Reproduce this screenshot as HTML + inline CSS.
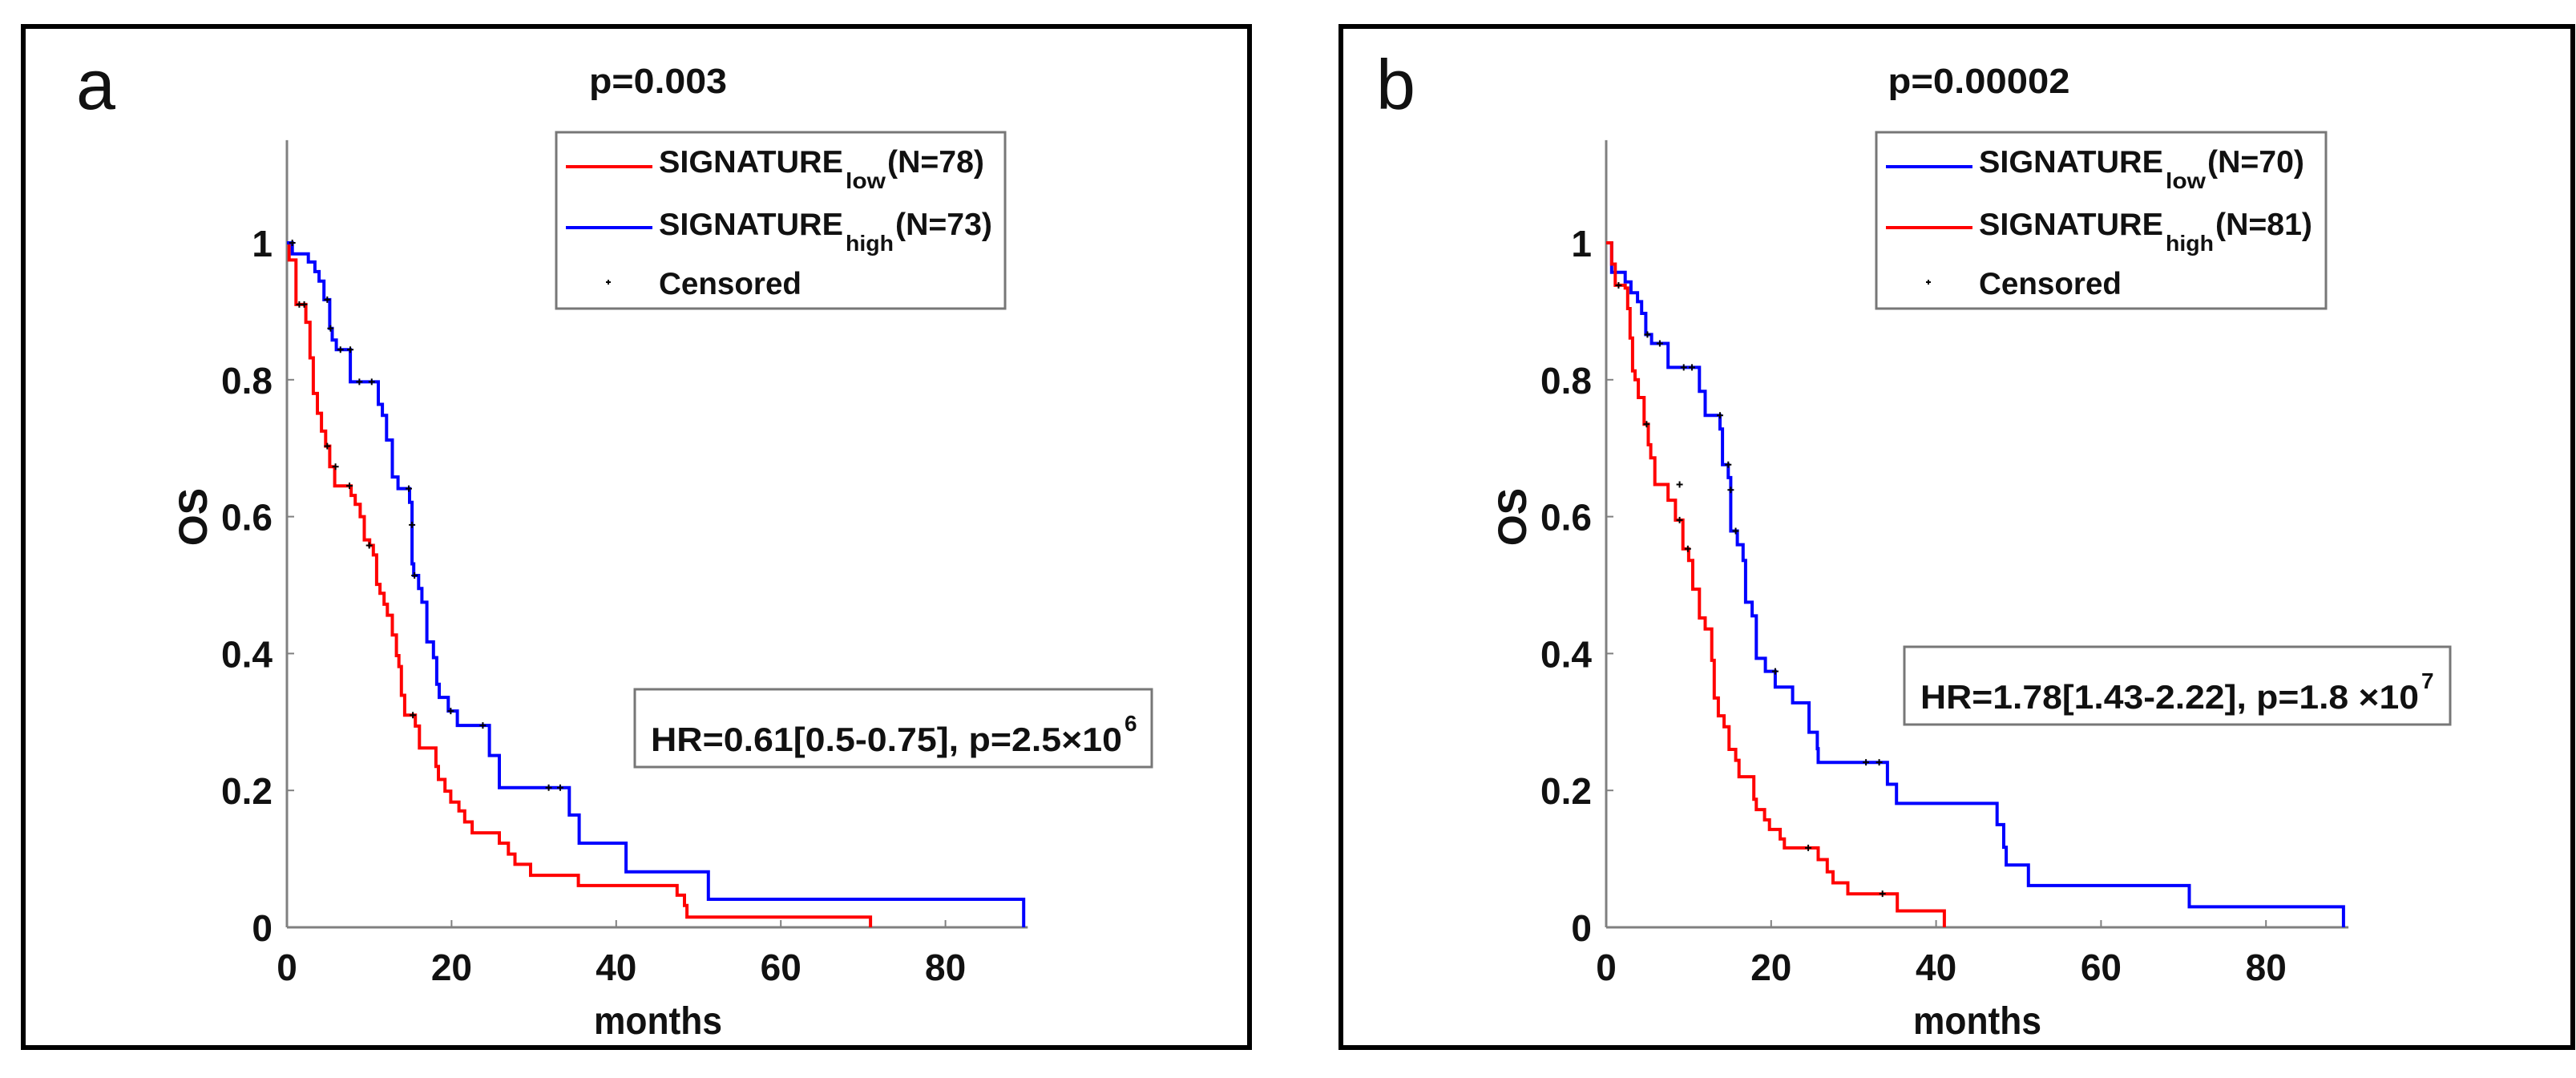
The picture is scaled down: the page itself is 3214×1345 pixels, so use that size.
<!DOCTYPE html>
<html><head><meta charset="utf-8"><style>
html,body{margin:0;padding:0;background:#fff;}
svg{display:block;}
text{font-family:"Liberation Sans",Arial,sans-serif;font-weight:bold;fill:#111;}
</style></head><body>
<svg id="fig" width="3214" height="1345" viewBox="0 0 3214 1345" xmlns="http://www.w3.org/2000/svg">
<rect x="0" y="0" width="3214" height="1345" fill="#fff"/>
</svg>
<script>
// ---- Panel a data ----
const aRedT = [0.26,1.1,2.3,2.8,3.2,3.7,4.2,4.7,5.2,5.8,7.8,8.3,8.9,9.4,10.05,10.5,10.9,11.3,11.8,12.2,12.8,13.3,13.6,13.9,14.3,15.6,16.1,18.1,18.4,19.2,19.9,20.9,21.6,22.5,25.8,26.9,27.7,29.6,35.4,47.4,48.3,48.6,70.9];
const aRedS = [0.975,0.910,0.884,0.832,0.780,0.751,0.725,0.703,0.673,0.645,0.631,0.618,0.600,0.566,0.558,0.544,0.501,0.488,0.472,0.456,0.427,0.397,0.381,0.339,0.310,0.294,0.262,0.235,0.216,0.199,0.183,0.170,0.154,0.138,0.123,0.107,0.092,0.076,0.061,0.047,0.032,0.015,0];
const aBlueT = [0.65,2.6,3.4,3.9,4.5,5.2,5.5,6.0,7.7,11.1,11.6,12.1,12.8,13.5,14.9,15.2,15.4,16.0,16.4,17.0,17.8,18.2,18.5,19.6,20.7,24.6,25.8,34.3,35.5,41.2,51.2,89.5];
const aBlueS = [0.984,0.972,0.958,0.944,0.917,0.875,0.858,0.844,0.797,0.764,0.748,0.712,0.658,0.641,0.621,0.531,0.514,0.495,0.475,0.417,0.394,0.355,0.336,0.316,0.295,0.251,0.204,0.164,0.123,0.081,0.041,0];
const aRedCT = [1.5,2.1,4.9,5.9,7.6,10.0,15.3];
const aRedCS = [0.910,0.910,0.703,0.673,0.645,0.558,0.310];
const aBlueCT = [0.65,4.9,5.3,6.5,7.7,8.8,10.3,14.8,15.2,15.5,19.9,23.8,31.8,33.2];
const aBlueCS = [1.0,0.917,0.875,0.844,0.844,0.797,0.797,0.641,0.588,0.514,0.316,0.295,0.204,0.204];
// ---- Panel b data ----
const bBlueT = [0.66,2.3,3.0,3.8,4.3,4.8,5.5,7.5,11.3,12.0,13.8,14.1,14.8,15.1,15.9,16.6,16.9,17.7,18.2,19.3,20.5,22.6,24.6,25.6,25.7,34.1,35.2,47.4,48.2,48.5,51.2,70.7,89.4];
const bBlueS = [0.957,0.943,0.927,0.914,0.897,0.866,0.853,0.818,0.783,0.748,0.728,0.676,0.657,0.579,0.559,0.536,0.475,0.455,0.393,0.374,0.351,0.328,0.285,0.261,0.241,0.209,0.181,0.150,0.117,0.091,0.061,0.030,0];
const bRedT = [0.66,1.1,2.3,2.6,2.9,3.2,3.5,3.9,4.6,5.1,5.4,5.9,7.5,8.4,9.3,10.0,10.5,11.3,12.0,12.8,13.1,13.6,14.3,14.9,15.7,16.1,17.9,18.2,19.2,19.8,21.1,21.6,25.7,26.8,27.5,29.3,35.3,41.0];
const bRedS = [0.969,0.938,0.934,0.904,0.861,0.813,0.800,0.774,0.735,0.705,0.686,0.647,0.624,0.595,0.553,0.536,0.494,0.452,0.436,0.390,0.335,0.309,0.293,0.260,0.244,0.220,0.187,0.172,0.157,0.143,0.129,0.116,0.099,0.081,0.065,0.049,0.024,0];
const bBlueCT = [5.0,6.5,9.4,10.4,13.8,14.8,15.1,15.7,20.5,31.5,33.1];
const bBlueCS = [0.866,0.853,0.818,0.818,0.748,0.676,0.639,0.579,0.374,0.241,0.241];
const bRedCT = [1.5,4.9,8.9,8.9,9.9,24.5,33.5];
const bRedCS = [0.938,0.735,0.647,0.595,0.553,0.116,0.049];
const xTicks = [0,20,40,60,80];
const xTickLabels = ["0","20","40","60","80"];
const yTicks = [0,0.2,0.4,0.6,0.8,1];
const yTickLabels = ["0","0.2","0.4","0.6","0.8","1"];

const NS = "http://www.w3.org/2000/svg";
const svg = document.getElementById('fig');
function mk(tag, attrs, parent){
  const e = document.createElementNS(NS, tag);
  for (const k in attrs) e.setAttribute(k, attrs[k]);
  (parent||svg).appendChild(e);
  return e;
}
function txt(parent, x, y, s, size, anchor, len){
  const t = mk('text', {x:x, y:y, 'font-size':size, 'text-anchor':anchor||'start'}, parent);
  if (len){ t.setAttribute('textLength', len); t.setAttribute('lengthAdjust','spacingAndGlyphs'); }
  t.textContent = s;
  return t;
}

function panel(cfg){
  const g = mk('g', {});
  
  
  const X = m => cfg.x0 + m * cfg.pxm;
  const Y = s => cfg.y0 - s * cfg.pys;
  // frame
  const fr = mk('rect', {x:cfg.fx, y:33, width:cfg.fw, height:1274, fill:'none', stroke:'#000', 'stroke-width':6}, g);
  
  
  const pl = txt(g, cfg.lx, 136, cfg.letter, 88, 'start');
  
  
  pl.style.fontWeight = 'normal';
  const ti = txt(g, cfg.titleX, 116, cfg.title, 44, 'middle', cfg.titleW);
  
  
  // axes
  const ax = mk('g', {}, g);
  
  
  mk('line', {x1:X(0), y1:Y(1.15), x2:X(0), y2:Y(0), stroke:'#808080', 'stroke-width':3}, ax);
  mk('line', {x1:X(0), y1:Y(0), x2:X(90), y2:Y(0), stroke:'#808080', 'stroke-width':3}, ax);
  xTicks.forEach((v,i)=>{
    mk('line', {x1:X(v), y1:Y(0), x2:X(v), y2:Y(0)-9, stroke:'#808080', 'stroke-width':2}, ax);
    const t = txt(ax, X(v), 1223, xTickLabels[i], 46, 'middle');
    
    
  });
  yTicks.forEach((v,i)=>{
    mk('line', {x1:X(0), y1:Y(v), x2:X(0)+9, y2:Y(v), stroke:'#808080', 'stroke-width':2}, ax);
    const t = txt(ax, X(0)-18, Y(v)+17, yTickLabels[i], 46, 'end');
    
    
  });
  const xl = txt(g, X(0)+463, 1290, 'months', 48, 'middle', 160);
  
  
  const yl = txt(g, 0, 0, 'OS', 50, 'middle');
  yl.setAttribute('transform', 'translate(' + (X(0)-100) + ',645) rotate(-90)');
  
  
  // curves
  cfg.series.forEach(sr=>{
    let d = 'M' + X(0) + ' ' + Y(1);
    sr.t.forEach((t,i)=>{ d += ' H' + X(t).toFixed(1) + ' V' + Y(sr.s[i]).toFixed(1); });
    const p = mk('path', {d:d, fill:'none', stroke:sr.color, 'stroke-width':4}, g);
    
    
    sr.ct.forEach((t,i)=>{
      const cx = X(t), cy = Y(sr.cs[i]);
      const c = mk('path', {d:'M'+(cx-4)+' '+cy+' H'+(cx+4)+' M'+cx+' '+(cy-4)+' V'+(cy+4), stroke:'#000', 'stroke-width':2}, g);
      
      
    });
  });
  // legend
  const lg = mk('g', {}, g);
  
  
  const L = cfg.legX;
  mk('rect', {x:L, y:165, width:cfg.legW, height:220, fill:'#fff', stroke:'#777', 'stroke-width':3}, lg);
  [[208,215,cfg.leg[0]],[284,293,cfg.leg[1]]].forEach(r=>{
    const e = mk('g', {}, lg);
    
    
    mk('line', {x1:L+12, y1:r[0], x2:L+120, y2:r[0], stroke:r[2].color, 'stroke-width':4}, e);
    txt(e, L+128, r[1], 'SIGNATURE', 39, 'start', 230);
    txt(e, L+361, r[1]+20, r[2].sub, 28, 'start', r[2].subW);
    txt(e, L+361+r[2].subW+2, r[1], r[2].n, 39, 'start', 121);
  });
  const ce = mk('g', {}, lg);
  
  
  mk('path', {d:'M'+(L+62)+' 352 H'+(L+68)+' M'+(L+65)+' 349 V355', stroke:'#000', 'stroke-width':2}, ce);
  txt(ce, L+128, 367, 'Censored', 39, 'start', 178);
  // HR box
  const hb = mk('g', {}, g);
  
  
  mk('rect', {x:cfg.hr.x, y:cfg.hr.y, width:cfg.hr.w, height:97, fill:'#fff', stroke:'#777', 'stroke-width':3}, hb);
  txt(hb, cfg.hr.x+20, cfg.hr.y+77, cfg.hr.text, 42, 'start', cfg.hr.tw);
  txt(hb, cfg.hr.x+20+cfg.hr.tw+3, cfg.hr.y+52, cfg.hr.sup, 28, 'start');
}

panel({name:'panel-a', letter:'a', lx:95, fx:29, fw:1530, x0:358, y0:1157, pxm:10.27, pys:854,
  title:'p=0.003', titleX:821, titleW:172,
  legX:694, legW:560,
  leg:[{color:'#ff0000', sub:'low', subW:50, n:'(N=78)'},{color:'#0000ff', sub:'high', subW:60, n:'(N=73)'}],
  hr:{x:792, y:860, w:645, text:'HR=0.61[0.5-0.75], p=2.5×10', tw:588, sup:'6'},
  series:[
    {name:'signature-low-curve', color:'#ff0000', t:aRedT, s:aRedS, ct:aRedCT, cs:aRedCS},
    {name:'signature-high-curve', color:'#0000ff', t:aBlueT, s:aBlueS, ct:aBlueCT, cs:aBlueCS}
  ]});
panel({name:'panel-b', letter:'b', lx:1717, fx:1673, fw:1537, x0:2004, y0:1157, pxm:10.29, pys:854,
  title:'p=0.00002', titleX:2469, titleW:227,
  legX:2341, legW:561,
  leg:[{color:'#0000ff', sub:'low', subW:50, n:'(N=70)'},{color:'#ff0000', sub:'high', subW:60, n:'(N=81)'}],
  hr:{x:2376, y:807, w:681, text:'HR=1.78[1.43-2.22], p=1.8 ×10', tw:622, sup:'7'},
  series:[
    {name:'signature-low-curve', color:'#0000ff', t:bBlueT, s:bBlueS, ct:bBlueCT, cs:bBlueCS},
    {name:'signature-high-curve', color:'#ff0000', t:bRedT, s:bRedS, ct:bRedCT, cs:bRedCS}
  ]});
</script>
</body></html>
